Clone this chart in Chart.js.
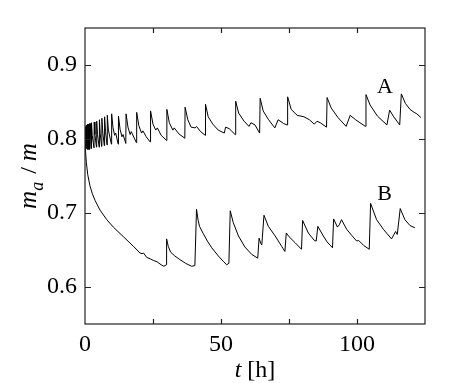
<!DOCTYPE html>
<html><head><meta charset="utf-8">
<script src="https://cdn.jsdelivr.net/npm/chart.js@4/dist/chart.umd.min.js"></script>
<style>html,body{margin:0;padding:0;background:#fff;}#wrap{width:469px;height:383px;}
.pre{font-family:'Liberation Serif';position:absolute;left:-999px;top:0;}</style>
</head><body><span class="pre">0.9 <i>t</i></span><div id="wrap"><canvas id="c" width="469" height="383"></canvas></div>
<script>
// Curve A: time [h] and m_a/m
const timeA = [0,0.1,0.25,0.38,0.55,0.68,0.85,0.98,1.15,1.28,1.48,1.6,1.82,1.95,2.25,2.4,2.65,3.3,3.4,3.65,4.2,4.3,4.6,5.2,5.3,5.6,6.1,6.2,6.55,7.1,7.2,7.55,8.1,8.2,8.6,9.7,9.8,10.3,10.9,11.3,12.2,12.3,12.9,13.6,14.0,15.0,15.1,15.8,16.6,17.0,18.9,19.0,19.8,20.8,21.3,22.5,24.0,24.1,25.0,26.0,26.6,28.0,30.0,30.1,31.0,32.3,32.8,34.5,36.7,36.8,37.8,39.0,40.5,41.0,42.5,44.2,44.3,45.3,47.0,49.0,51.2,51.7,53.0,55.2,55.4,56.5,58.5,60.3,61.0,62.5,64.2,64.4,65.5,67.5,69.8,71.0,73.0,74.3,74.5,75.8,78.0,80.5,82.5,84.3,85.3,86.5,88.8,89.0,90.5,93.0,96.0,97.5,99.5,103.1,103.3,104.8,107.5,111.0,112.0,113.5,115.7,116.3,117.8,119.5,121.0,122.0,123.5];
const valueA = [0.800,0.816,0.789,0.818,0.787,0.819,0.786,0.820,0.786,0.820,0.786,0.821,0.787,0.821,0.787,0.822,0.805,0.788,0.823,0.806,0.789,0.824,0.806,0.789,0.826,0.807,0.790,0.828,0.808,0.791,0.830,0.810,0.792,0.832,0.812,0.793,0.834,0.815,0.805,0.808,0.793,0.831,0.813,0.803,0.806,0.794,0.834,0.816,0.806,0.810,0.795,0.836,0.818,0.808,0.811,0.803,0.796,0.838,0.820,0.812,0.815,0.805,0.798,0.840,0.822,0.812,0.815,0.807,0.801,0.843,0.826,0.816,0.815,0.817,0.810,0.805,0.847,0.830,0.820,0.812,0.808,0.816,0.814,0.806,0.851,0.835,0.824,0.817,0.822,0.819,0.808,0.855,0.838,0.826,0.815,0.826,0.821,0.819,0.857,0.840,0.832,0.830,0.826,0.820,0.824,0.822,0.816,0.856,0.842,0.829,0.817,0.832,0.826,0.817,0.860,0.846,0.831,0.819,0.839,0.830,0.819,0.861,0.848,0.840,0.836,0.834,0.829];
// Curve B
const timeB = [0,0.2,0.5,1.0,1.8,2.7,3.7,5.5,8.0,10.4,14.1,17.8,20.2,21.0,21.5,22.7,24.0,25.1,26.5,28.0,29.0,29.9,30.0,30.6,31.5,33.0,34.9,37.0,39.2,40.4,41.0,41.6,42.1,43.5,45.0,46.6,49.0,51.0,52.1,52.9,53.4,54.5,56.4,58.8,61.3,63.5,64.0,64.6,65.0,65.8,67.4,69.9,72.3,73.5,74.0,75.0,77.2,79.6,80.0,82.1,84.3,85.0,85.6,87.6,89.0,91.0,91.4,92.8,93.5,94.3,96.2,98.0,99.9,100.6,102.5,104.5,105.0,107.2,109.7,112.7,114.2,114.8,115.9,117.6,119.5,121.3];
const valueB = [0.800,0.783,0.768,0.752,0.737,0.726,0.717,0.704,0.691,0.681,0.668,0.655,0.646,0.645,0.646,0.640,0.638,0.636,0.634,0.630,0.628,0.630,0.665,0.655,0.647,0.642,0.637,0.632,0.628,0.629,0.705,0.690,0.682,0.672,0.662,0.653,0.642,0.634,0.630,0.632,0.703,0.687,0.669,0.654,0.644,0.639,0.666,0.659,0.657,0.697,0.682,0.669,0.655,0.648,0.673,0.668,0.660,0.651,0.690,0.673,0.663,0.662,0.682,0.669,0.661,0.653,0.692,0.681,0.684,0.691,0.678,0.670,0.662,0.663,0.656,0.651,0.713,0.691,0.678,0.665,0.675,0.671,0.706,0.691,0.683,0.680];
// Axis ticks
const xTickLabels = [0, 50, 100];
const xTickMarks = [25, 50, 75, 100];
const yTickValues = [0.6, 0.7, 0.8, 0.9];
// Curve labels [text, t, value]
const curveLabels = [["A", 110.3, 0.8625], ["B", 110.1, 0.7182]];

const SERIF = "'Liberation Serif'";
const toXY = (ts, vs) => ts.map((t, i) => ({x: t, y: vs[i]}));

const decor = {
  id: 'decor',
  afterDraw(chart) {
    const ctx = chart.ctx, a = chart.chartArea, xs = chart.scales.x, ys = chart.scales.y;
    ctx.save();
    ctx.strokeStyle = '#222';
    ctx.lineWidth = 1.2;
    ctx.strokeRect(a.left, a.top, a.right - a.left, a.bottom - a.top);
    ctx.beginPath();
    xTickMarks.forEach(v => {
      const px = Math.round(xs.getPixelForValue(v)) + 0.5;
      ctx.moveTo(px, a.bottom); ctx.lineTo(px, a.bottom - 5);
      ctx.moveTo(px, a.top); ctx.lineTo(px, a.top + 5);
    });
    yTickValues.forEach(v => {
      const py = Math.round(ys.getPixelForValue(v)) + 0.5;
      ctx.moveTo(a.left, py); ctx.lineTo(a.left + 6, py);
      ctx.moveTo(a.right, py); ctx.lineTo(a.right - 6, py);
    });
    ctx.stroke();
    ctx.fillStyle = '#000';
    ctx.font = '22px ' + SERIF;
    ctx.textAlign = 'center';
    ctx.textBaseline = 'alphabetic';
    curveLabels.forEach(([txt, t, v]) => {
      ctx.fillText(txt, xs.getPixelForValue(t), ys.getPixelForValue(v));
    });
    const cx = (a.left + a.right) / 2;
    ctx.textAlign = 'left';
    const f1 = 'italic 24px ' + SERIF, f2 = '24px ' + SERIF;
    ctx.font = f1; const w1 = ctx.measureText('t').width;
    ctx.font = f2; const w2 = ctx.measureText(' [h]').width;
    let x0 = cx - (w1 + w2) / 2;
    ctx.font = f1; ctx.fillText('t', x0, 377);
    ctx.font = f2; ctx.fillText(' [h]', x0 + w1, 377);
    const cy = (a.top + a.bottom) / 2;
    ctx.translate(36, cy);
    ctx.rotate(-Math.PI / 2);
    const fm = 'italic 25px ' + SERIF, fs = 'italic 18px ' + SERIF;
    ctx.font = fm; const wm = ctx.measureText('m').width;
    ctx.font = fs; const wa = ctx.measureText('a').width;
    ctx.font = f2; const wsl = ctx.measureText(' / ').width;
    const tot = wm + wa + wsl + wm + 2;
    let p = -tot / 2;
    ctx.font = fm; ctx.fillText('m', p, 0); p += wm;
    ctx.font = fs; ctx.fillText('a', p, 7); p += wa + 2;
    ctx.font = f2; ctx.fillText(' / ', p, 0); p += wsl;
    ctx.font = fm; ctx.fillText('m', p, 0);
    ctx.restore();
  }
};

function draw() {
  new Chart(document.getElementById('c'), {
    type: 'line',
    data: {
      datasets: [
        {label: 'A', data: toXY(timeA, valueA), borderColor: '#000', borderWidth: 1, pointRadius: 0, tension: 0, fill: false},
        {label: 'B', data: toXY(timeB, valueB), borderColor: '#000', borderWidth: 1, pointRadius: 0, tension: 0, fill: false}
      ]
    },
    options: {
      responsive: false,
      animation: false,
      devicePixelRatio: 1,
      layout: {padding: {left: 0, top: 28, right: 44, bottom: 0}},
      plugins: {legend: {display: false}, tooltip: {enabled: false}, title: {display: false}},
      scales: {
        x: {
          type: 'linear', min: 0, max: 125,
          grid: {display: false, drawTicks: false},
          border: {display: false},
          afterBuildTicks: s => { s.ticks = xTickLabels.map(v => ({value: v})); },
          afterFit: s => { s.height = 59; },
          ticks: {color: '#000', font: {family: SERIF, size: 24}, padding: 6, maxRotation: 0, autoSkip: false}
        },
        y: {
          type: 'linear', min: 0.55, max: 0.95,
          grid: {display: false, drawTicks: false},
          border: {display: false},
          afterBuildTicks: s => { s.ticks = yTickValues.map(v => ({value: v})); },
          afterFit: s => { s.width = 85; },
          ticks: {color: '#000', font: {family: SERIF, size: 24}, padding: 8, callback: v => v.toFixed(1)}
        }
      }
    },
    plugins: [decor]
  });
}
Promise.all([
  document.fonts.load("24px 'Liberation Serif'"),
  document.fonts.load("italic 24px 'Liberation Serif'")
]).then(draw, draw);
</script>
</body></html>
